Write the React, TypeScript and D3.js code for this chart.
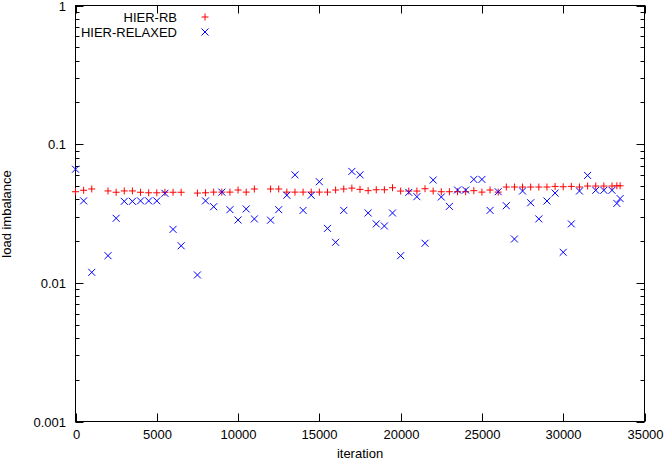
import React from "react";
import * as d3 from "d3";

const iterations = [0,500,1000,2000,2500,3000,3500,4000,4500,5000,5500,6000,6500,7500,8000,8500,9000,9500,10000,10500,11000,12000,12500,13000,13500,14000,14500,15000,15500,16000,16500,17000,17500,18000,18500,19000,19500,20000,20500,21000,21500,22000,22500,23000,23500,24000,24500,25000,25500,26000,26500,27000,27500,28000,28500,29000,29500,30000,30500,31000,31500,32000,32500,33000,33300,33500];

const hierRB = [0.0454,0.0465,0.0475,0.046,0.045,0.046,0.046,0.045,0.0446,0.0446,0.045,0.045,0.045,0.0444,0.0446,0.0451,0.0451,0.0451,0.0467,0.0451,0.0475,0.0475,0.0475,0.0451,0.0451,0.0451,0.0451,0.0451,0.0451,0.0467,0.0475,0.0482,0.0472,0.0462,0.0469,0.0469,0.0485,0.0459,0.0459,0.0459,0.0477,0.0459,0.0454,0.0454,0.0454,0.0454,0.0462,0.0451,0.0467,0.0451,0.0491,0.0491,0.0491,0.0491,0.0491,0.0491,0.0496,0.0493,0.0496,0.0491,0.0499,0.0499,0.0499,0.0499,0.0501,0.0501];

const hierRelaxed = [0.066,0.039,0.0119,0.0157,0.0292,0.0387,0.0387,0.039,0.039,0.039,0.0442,0.0243,0.0185,0.0114,0.039,0.0354,0.0451,0.0337,0.0284,0.0341,0.0289,0.0283,0.0337,0.0428,0.0601,0.0333,0.0428,0.0536,0.0247,0.0196,0.0333,0.0636,0.0601,0.0319,0.0266,0.0257,0.0319,0.0157,0.0449,0.0418,0.0193,0.0551,0.0416,0.0356,0.0467,0.0467,0.0557,0.0557,0.0333,0.0454,0.036,0.0207,0.0459,0.0378,0.0289,0.0389,0.0444,0.0166,0.0266,0.0459,0.0595,0.0465,0.0465,0.0465,0.0374,0.0405];

const xTicks = [0,5000,10000,15000,20000,25000,30000,35000];
const yTicks = [0.001,0.01,0.1,1];
const yTickLabels = ["0.001","0.01","0.1","1"];
const seriesNames = ["HIER-RB","HIER-RELAXED"];

const W = 664, H = 460;
const L = 75.5, R = 644.5, T = 5.5, B = 421.5;
const FONT = "'Liberation Sans', Arial, Helvetica, sans-serif";

export default function App() {
  const x = d3.scaleLinear().domain([0, 35000]).range([L, R]);
  const y = d3.scaleLog().domain([0.001, 1]).range([B, T]);
  const minor: number[] = [];
  for (const d of [0.001, 0.01, 0.1]) for (let k = 2; k <= 9; k++) minor.push(d * k);
  const s = 3.5;
  const plus = (cx: number, cy: number, key: any, color: string) => (
    <path key={key} d={`M${cx - s},${cy}H${cx + s}M${cx},${cy - s}V${cy + s}`} stroke={color} strokeWidth={1} fill="none" />
  );
  const cross = (cx: number, cy: number, key: any, color: string) => (
    <path key={key} d={`M${cx - s},${cy - s}L${cx + s},${cy + s}M${cx - s},${cy + s}L${cx + s},${cy - s}`} stroke={color} strokeWidth={1} fill="none" />
  );
  return (
    <svg width={W} height={H} style={{ position: "absolute", left: 0, top: 0, background: "#fff" }} fontFamily={FONT}>
      <rect x={0} y={0} width={W} height={H} fill="#fff" />
      {/* y ticks */}
      {yTicks.map((t, i) => {
        const yy = Math.round(y(t)) + 0.5;
        return (
          <g key={"yt" + i}>
            <line x1={L} x2={L + 8} y1={yy} y2={yy} stroke="#000" />
            <line x1={R} x2={R - 8} y1={yy} y2={yy} stroke="#000" />
            <text x={66} y={yy} dy="0.35em" textAnchor="end" fontSize={13}>{yTickLabels[i]}</text>
          </g>
        );
      })}
      {minor.map((t, i) => {
        const yy = Math.round(y(t)) + 0.5;
        return (
          <g key={"ym" + i}>
            <line x1={L} x2={L + 4} y1={yy} y2={yy} stroke="#000" />
            <line x1={R} x2={R - 4} y1={yy} y2={yy} stroke="#000" />
          </g>
        );
      })}
      {xTicks.map((t, i) => {
        const xx = Math.round(x(t)) + 0.5;
        return (
          <g key={"xt" + i}>
            <line x1={xx} x2={xx} y1={B} y2={B - 8} stroke="#000" />
            <line x1={xx} x2={xx} y1={T} y2={T + 8} stroke="#000" />
            <text x={xx} y={439} textAnchor="middle" fontSize={13}>{t}</text>
          </g>
        );
      })}
      <rect x={L} y={T} width={R - L} height={B - T} fill="none" stroke="#000" />
      <text x={360} y={458} textAnchor="middle" fontSize={13}>iteration</text>
      <text transform={`translate(11,214) rotate(-90)`} textAnchor="middle" fontSize={13}>load imbalance</text>
      {/* legend */}
      <text x={177} y={17} dy="0.35em" textAnchor="end" fontSize={13}>{seriesNames[0]}</text>
      {plus(205, 17, "lg1", "#ff0000")}
      <text x={177} y={32} dy="0.35em" textAnchor="end" fontSize={13}>{seriesNames[1]}</text>
      {cross(205, 32, "lg2", "#0000ff")}
      {/* data */}
      {iterations.map((it, i) => plus(x(it), y(hierRB[i]), "r" + i, "#ff0000"))}
      {iterations.map((it, i) => cross(x(it), y(hierRelaxed[i]), "b" + i, "#0000ff"))}
    </svg>
  );
}
